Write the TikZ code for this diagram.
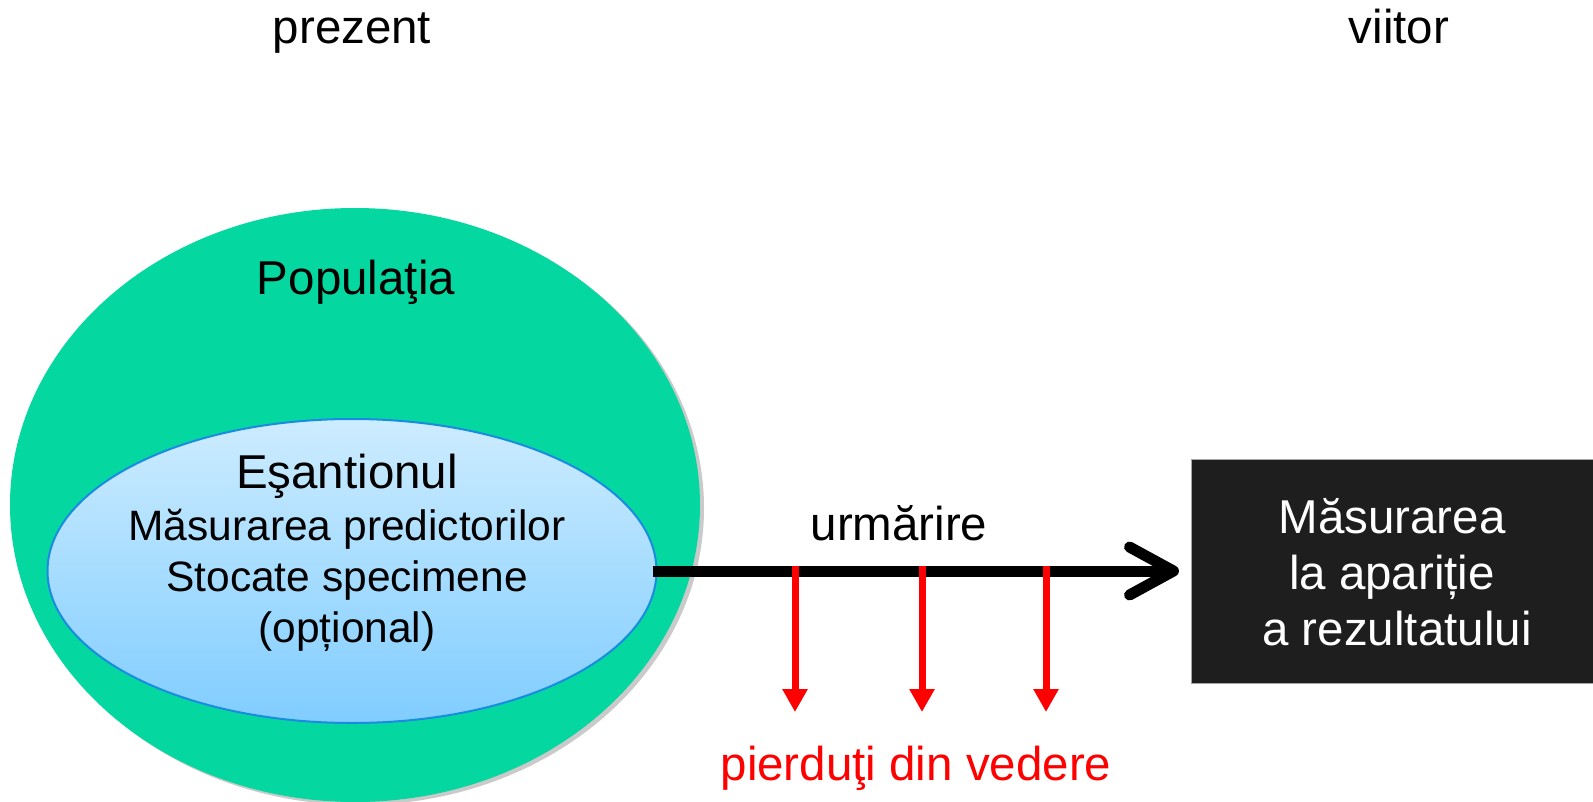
\documentclass[tikz,border=0pt]{standalone}
\usepackage{fontspec}
\setmainfont{Liberation Sans}
\usetikzlibrary{arrows.meta,shadows,shapes.geometric}
\definecolor{popgreen}{RGB}{5,215,160}
\definecolor{samptop}{RGB}{205,236,255}
\definecolor{sampbot}{RGB}{128,205,255}
\definecolor{sampedge}{RGB}{25,140,225}
\definecolor{boxfill}{RGB}{30,30,30}
\begin{document}
\begin{tikzpicture}[x=1pt,y=-1pt,
  big/.style={font=\fontsize{47.5}{56}\selectfont, inner sep=0pt, anchor=base},
  small/.style={font=\fontsize{42.5}{51}\selectfont, inner sep=0pt, anchor=base},
  lost/.style={draw=red, line width=7pt, -{Triangle[length=23pt,width=24pt]}},
]
\useasboundingbox (0,0) rectangle (1593,802);
% population
\node[ellipse, fill=popgreen, minimum width=690pt, minimum height=594pt, inner sep=0pt,
  drop shadow={shadow xshift=4pt,shadow yshift=-3pt,opacity=0.35,fill=black!60}] (pop) at (355,505) {};
\node[ellipse, draw=sampedge, line width=2pt, top color=samptop, bottom color=sampbot,
  minimum width=609pt, minimum height=304pt, inner sep=0pt] (samp) at (352,571) {};
% texts
\node[big] (prez) at (352,44) {prezent};
\node[big] (viit) at (1399,44) {viitor};
\node[big] (poptxt) at (356,295) {Populaţia};
\node[big] (samptxt) at (347,488) {Eşantionul};
\node[small] (pred) at (347,540) {Măsurarea predictorilor};
\node[small] (stoc) at (347,591) {Stocate specimene};
\node[small] (opt) at (347,642) {(opțional)};
% outcome box
\node[rectangle, fill=boxfill, draw=gray!70, line width=1pt, minimum width=402pt, minimum height=224pt, inner sep=0pt] (box) at (1392,571) {};
\node[big, text=white] (b1) at (1392,533) {Măsurarea};
\node[big, text=white] (b2) at (1392,589) {la apariție};
\node[big, text=white] (b3) at (1397,645) {a rezultatului};
% follow-up arrow
\coordinate (tip) at ([xshift=-17pt]box.west);
\draw[line width=11pt] ([xshift=-5pt]samp.east) -- (tip);
\draw[line width=11pt, line cap=round, line join=round] ([shift={(-44,-24)}]tip) -- (tip) -- ([shift={(-44,24)}]tip);
\node[big] (follow) at (899,540) {urmărire};
% lost to follow-up
\coordinate (d1) at (795,566);
\coordinate (d2) at (922,566);
\coordinate (d3) at (1046,566);
\coordinate (e1) at (795,712);
\coordinate (e2) at (922,712);
\coordinate (e3) at (1046,712);
\draw[lost] (d1) -- (e1);
\draw[lost] (d2) -- (e2);
\draw[lost] (d3) -- (e3);
\node[big, text=red] (losttxt) at (916,780) {pierduţi din vedere};
\end{tikzpicture}
\end{document}
